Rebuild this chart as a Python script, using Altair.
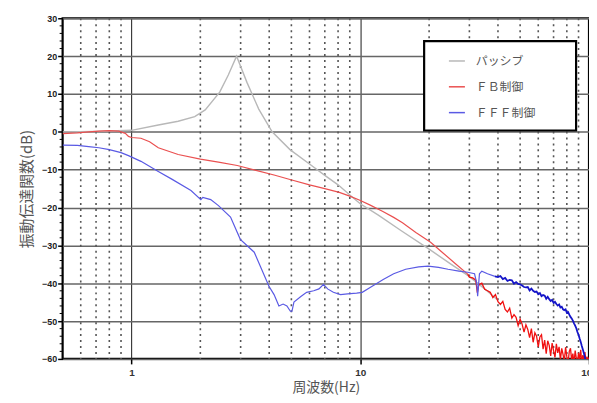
import altair as alt
import pandas as pd

# ---------------- data ----------------
NAMES = ["パッシブ", "ＦＢ制御", "ＦＦＦ制御"]
COLORS = ["#b8b8b8", "#ea5050", "#5a5ae4"]

X_LABELS = [1, 10, 100]
Y_TICKS = [-60, -50, -40, -30, -20, -10, 0, 10, 20, 30]
MINOR_FREQS = [0.6, 0.7, 0.8, 0.9, 2, 3, 4, 5, 6, 7, 8, 9, 20, 30, 40, 50, 60, 70, 80, 90]
MINOR_DB = [-58, -56, -54, -52, -48, -46, -44, -42, -38, -36, -34, -32,
            -28, -26, -24, -22, -18, -16, -14, -12, -8, -6, -4, -2,
            2, 4, 6, 8, 12, 14, 16, 18, 22, 24, 26, 28]

passive_f = [0.5, 0.7, 1.0, 1.31, 1.6, 1.89, 2.1, 2.43, 2.65, 2.88, 3.2, 3.6, 4.12,
             4.93, 6, 7, 8, 9.3, 10, 12, 15, 20, 25, 29.6, 35, 40]
passive_db = [0.0, 0.1, 0.4, 1.8, 2.8, 4.0, 5.8, 10.5, 15.0, 20.0, 13.0, 6.0, 0.0,
              -4.7, -8.5, -11.5, -14.0, -17.4, -19.0, -22.0, -26.0, -31.0, -35.0, -38.0,
              -41.5, -44.5]

fb_f = [0.5, 0.58, 0.65, 0.72, 0.8, 0.88, 0.94, 0.97, 1.0, 1.1, 1.2, 1.31, 1.6, 2.0,
        2.4, 2.9, 3.5, 4.2, 4.93, 6.0, 7.0, 8.1, 9.0, 9.9, 11, 12.5, 14, 15.3, 17.5,
        20.3, 23, 26, 29.5]
fb_db = [-0.5, -0.3, 0.0, 0.2, 0.3, 0.2, -0.4, -1.2, -1.5, -1.7, -2.6, -4.2, -6.0,
         -7.2, -8.0, -8.9, -10.2, -11.4, -12.6, -14.0, -15.0, -16.0, -17.0, -18.0,
         -19.3, -21.0, -22.6, -24.0, -26.6, -29.2, -32.0, -34.8, -37.6]

fb_hi_f = [29.5, 30, 31, 32, 32.5, 33, 34, 35, 36, 37, 38, 39, 40, 41, 42, 43, 44, 45,
           46, 47, 48, 49, 50, 51, 52, 53, 54, 55, 56, 57, 58, 59, 60, 61, 62, 63, 64,
           65, 66, 67, 68, 69, 70, 71, 72, 73, 74, 75, 76, 77, 78, 79, 80, 81, 82, 83,
           84, 85, 86, 87, 88, 89, 90, 91, 92, 93, 94, 95, 96, 97, 98, 99, 100]
fb_hi_db = [-37.6, -38.4, -38.6, -39.2, -42.5, -40.4, -40.0, -41.6, -42.0, -42.4, -43.8,
            -43.0, -44.9, -45.6, -44.8, -46.9, -47.6, -46.6, -49.2, -48.3, -49.0, -51.2,
            -49.5, -50.8, -52.9, -51.0, -52.2, -54.4, -52.0, -55.6, -53.1, -54.0, -56.8,
            -54.2, -53.6, -57.4, -55.0, -58.6, -55.2, -56.4, -59.2, -55.8, -57.8, -59.6,
            -56.0, -58.4, -56.8, -60.2, -57.2, -58.8, -60.6, -56.9, -59.4, -61.0, -58.0,
            -57.2, -60.4, -58.6, -61.2, -57.8, -59.8, -61.0, -58.4, -60.2, -57.6, -61.2,
            -59.0, -60.6, -58.2, -61.0, -59.4, -60.8, -59.6]

fff_f = [0.5, 0.58, 0.65, 0.72, 0.8, 0.9, 0.97, 1.1, 1.31, 1.5, 1.82, 2.01, 2.05, 2.22,
         2.4, 2.71, 2.99, 3.44, 3.99, 4.2, 4.41, 4.6, 4.78, 4.95, 5.03, 5.13, 5.5, 5.83,
         6.26, 6.6, 6.91, 7.2, 7.63, 8.2, 8.8, 9.64, 10.2, 11, 12.6, 14, 15.8, 18, 19.8,
         22, 24.2, 27, 29.5, 31.6, 32.3, 32.6, 33.2, 34, 36, 38.8]
fff_db = [-3.5, -3.6, -3.9, -4.2, -4.7, -5.5, -6.3, -7.8, -10.5, -12.5, -15.5, -17.9,
          -17.3, -17.9, -19.5, -22.5, -28.4, -31.8, -40.8, -43.0, -46.0, -45.5, -46.0,
          -47.4, -47.4, -45.0, -43.5, -42.4, -42.0, -41.5, -40.3, -41.5, -42.4, -43.0,
          -42.8, -42.6, -42.4, -41.2, -39.0, -37.5, -36.3, -35.7, -35.5, -35.8, -36.3,
          -36.8, -37.1, -37.5, -40.0, -43.4, -37.5, -36.8, -37.5, -38.2]

fff_hi_f = [38.8, 40, 41, 42, 43, 44, 45, 46, 47, 48, 49, 50, 51, 52, 53, 54, 55, 56, 57,
            58, 59, 60, 61, 62, 63, 64, 65, 66, 67, 68, 69, 70, 71, 72, 73, 74, 75, 76,
            77, 78, 79, 80, 81, 82, 83, 84, 85, 86, 87, 88, 89, 90, 91, 92, 93, 94, 95,
            96, 97]
fff_hi_db = [-38.2, -38.4, -38.1, -38.9, -38.6, -39.4, -39.1, -39.2, -40.1, -39.7, -40.2,
             -40.3, -40.6, -41.0, -41.1, -41.0, -41.9, -41.4, -42.0, -42.3, -42.2, -42.9,
             -42.6, -43.4, -43.1, -43.3, -44.1, -43.6, -44.2, -44.7, -44.4, -45.2, -44.9,
             -45.5, -45.9, -45.6, -46.4, -46.2, -46.9, -47.1, -46.9, -47.8, -47.6, -48.3,
             -48.9, -49.3, -49.9, -50.6, -51.2, -51.9, -52.9, -53.6, -54.6, -55.5, -56.6,
             -57.5, -58.5, -59.6, -61.0]

# ---------------- tables ----------------
df_passive = pd.DataFrame({"f": passive_f, "db": passive_db, "s": NAMES[0]})
df_fb = pd.DataFrame({"f": fb_f, "db": fb_db, "s": NAMES[1]})
df_fb_hi = pd.DataFrame({"f": fb_hi_f, "db": fb_hi_db})
df_fff = pd.DataFrame({"f": fff_f, "db": fff_db, "s": NAMES[2]})
df_fff_hi = pd.DataFrame({"f": fff_hi_f, "db": fff_hi_db})
df_minor_f = pd.DataFrame({"f": MINOR_FREQS})
df_minor_db = pd.DataFrame({"db": MINOR_DB})

LABEL_FONT = "Liberation Sans"
CJK = "Noto Sans CJK JP"

X = alt.X(
    "f:Q",
    scale=alt.Scale(type="log", domain=[0.5, 100], nice=False, zero=False),
    axis=alt.Axis(
        values=X_LABELS, format="~g", title="周波数(Hz)", grid=True,
        gridColor="#1a1a1a", gridWidth=1, tickSize=5, tickColor="#000", tickWidth=1.5,
        domain=False, labelFont=LABEL_FONT, labelFontSize=10, labelFontWeight="bold",
        labelColor="#333", labelPadding=4, titleFont=CJK, titleFontSize=14,
        titleFontWeight="normal", titleColor="#555", titlePadding=3,
        labelFlush=False,
    ),
)
Y = alt.Y(
    "db:Q",
    scale=alt.Scale(domain=[-60, 30], nice=False, zero=False),
    axis=alt.Axis(
        values=Y_TICKS, title="振動伝達関数(dB)", grid=True, gridColor="#666666",
        gridWidth=1.5, tickSize=5, tickColor="#000", tickWidth=1.5, domain=False,
        labelFont=LABEL_FONT, labelFontSize=9, labelFontWeight="bold", labelColor="#222",
        labelPadding=1, titleFont=CJK, titleFontSize=15, titleFontWeight="normal",
        titleColor="#555", titlePadding=7,
    ),
)

color = alt.Color(
    "s:N",
    scale=alt.Scale(domain=NAMES, range=COLORS),
    legend=alt.Legend(
        title=None, orient="none", legendX=388, legendY=34, padding=0,
        symbolType="stroke", symbolSize=260, symbolStrokeWidth=1.5, rowPadding=11,
        labelFont=CJK, labelFontSize=12, labelColor="#555", labelOffset=10,
    ),
)

minor_v = alt.Chart(df_minor_f).mark_rule(
    color="#555555", strokeWidth=1.6, strokeDash=[2, 4]
).encode(x=X)

minor_y = alt.Chart(df_minor_db).mark_rule(color="#000", strokeWidth=1).encode(
    y=Y, x=alt.value(-3), x2=alt.value(0)
)

legend_box = alt.Chart(alt.Data(values=[{}])).mark_rect(
    fill="white", stroke="black", strokeWidth=2.2
).encode(x=alt.value(364), x2=alt.value(517), y=alt.value(23), y2=alt.value(113))

passive = alt.Chart(df_passive).mark_line(strokeWidth=1.4, clip=True).encode(
    x=X, y=Y, color=color
)
fb = alt.Chart(df_fb).mark_line(strokeWidth=1.2, clip=True).encode(x=X, y=Y, color=color)
fb_hi = alt.Chart(df_fb_hi).mark_line(strokeWidth=1.3, clip=True, color="#f01010").encode(
    x=X, y=Y
)
fff = alt.Chart(df_fff).mark_line(strokeWidth=1.2, clip=True).encode(x=X, y=Y, color=color)
fff_hi = alt.Chart(df_fff_hi).mark_line(strokeWidth=1.8, clip=True, color="#1414c8").encode(
    x=X, y=Y
)

chart = alt.layer(
    minor_v, minor_y, passive, fb, fb_hi, fff_hi, fff, legend_box
).properties(
    width=530,
    height=343,
    autosize=alt.AutoSizeParams(type="none"),
    padding={"left": 55, "top": 9, "right": 0, "bottom": 39},
    background="white",
).configure_view(stroke="black", strokeWidth=2.2)

chart.save("out.html", embed_options={"renderer": "svg", "actions": False})
